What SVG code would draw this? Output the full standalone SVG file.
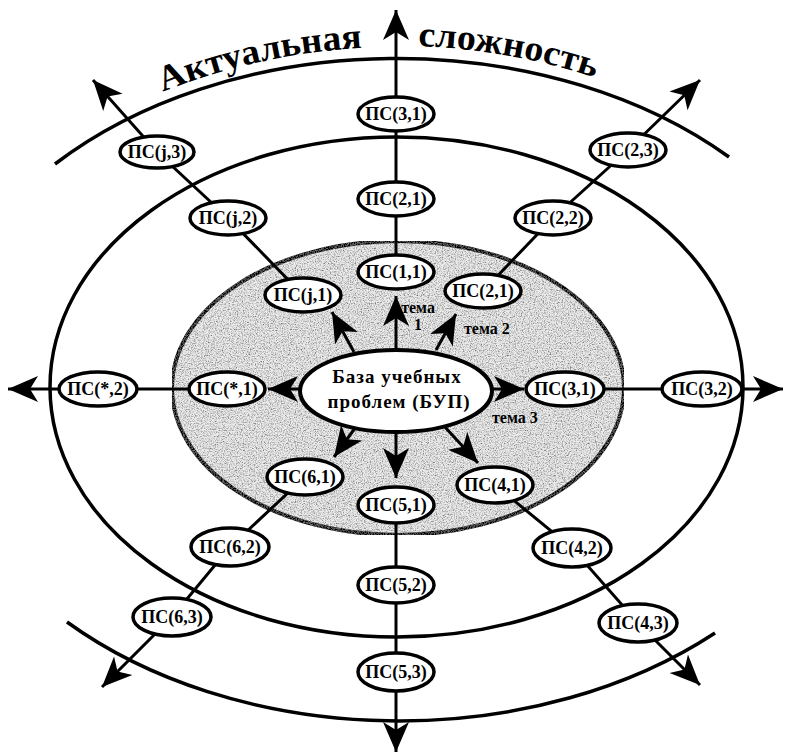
<svg xmlns="http://www.w3.org/2000/svg" width="787" height="756" viewBox="0 0 787 756">
<style>
.ring{fill:none;stroke:#000;stroke-width:3.5}
.ln{fill:none;stroke:#000;stroke-width:3}
.node ellipse{fill:#fff;stroke:#000;stroke-width:3.5}
.node text{font-family:"Liberation Serif",serif;font-size:18px;font-weight:bold;text-anchor:middle}
.lbl{font-family:"Liberation Serif",serif;font-size:16px;font-weight:bold}
.title{font-family:"Liberation Serif",serif;font-size:36px;font-weight:bold}
.bup{font-family:"Liberation Serif",serif;font-size:19px;font-weight:bold;text-anchor:middle;letter-spacing:1px}
</style>
<defs>
<marker id="ah" viewBox="-32 -15 34 30" refX="0" refY="0" markerWidth="34" markerHeight="30" markerUnits="userSpaceOnUse" orient="auto">
<path d="M0,0 L-30,-13 L-22,0 L-30,13 Z" fill="#000"/>
</marker>
<filter id="speck" x="0" y="0" width="1" height="1">
<feTurbulence type="fractalNoise" baseFrequency="0.85" numOctaves="3" seed="5" result="n"/>
<feColorMatrix in="n" type="matrix" values="0 0 0 0 0.2  0 0 0 0 0.2  0 0 0 0 0.2  2.4 0 0 0 -0.98" result="d"/>
<feComposite in="d" in2="SourceGraphic" operator="in" result="dc"/>
<feMerge><feMergeNode in="SourceGraphic"/><feMergeNode in="dc"/></feMerge>
</filter>
<path id="tp1" d="M163,92 A482,345 0 0 1 385,47"/>
<path id="tp2" d="M418,46 A482,345 0 0 1 602,80"/>
</defs>
<rect width="787" height="756" fill="#fff"/>

<g id="rings">
<path class="ring" d="M55,164 A465,328 0 0 1 729,157"/>
<path class="ring" d="M67,622 A465,330 0 0 0 715,633"/>
<ellipse class="ring" cx="396.5" cy="387" rx="346.5" ry="250"/>
<ellipse cx="398" cy="388" rx="226" ry="147" fill="#ebebeb" stroke="#000" stroke-width="4" filter="url(#speck)"/>
</g>

<g id="title">
<text class="title"><textPath href="#tp1" textLength="205" lengthAdjust="spacingAndGlyphs">Актуальная</textPath></text>
<text class="title"><textPath href="#tp2" textLength="180" lengthAdjust="spacingAndGlyphs">сложность</textPath></text>
</g>

<g id="labels">
<text class="lbl" x="418" y="313" text-anchor="middle">тема</text>
<text class="lbl" x="418" y="330" text-anchor="middle">1</text>
<text class="lbl" x="464" y="334">тема 2</text>
<text class="lbl" x="492" y="423">тема 3</text>
</g>

<g id="connectors">
<path class="ln" d="M396,255 L396,10" marker-end="url(#ah)"/>
<path class="ln" d="M303,295 L228,218 L157,152 L93,80" marker-end="url(#ah)"/>
<path class="ln" d="M483,291 L553,218 L628,150 L700,80" marker-end="url(#ah)"/>
<path class="ln" d="M227,389 L8,389" marker-end="url(#ah)"/>
<path class="ln" d="M565,389 L783,389" marker-end="url(#ah)"/>
<path class="ln" d="M396,505 L396,752" marker-end="url(#ah)"/>
<path class="ln" d="M305,477 L230,547 L172,617 L102,687" marker-end="url(#ah)"/>
<path class="ln" d="M495,485 L572,548 L638,623 L700,685" marker-end="url(#ah)"/>
<path class="ln" d="M396,352 L396,296" marker-end="url(#ah)"/>
<path class="ln" d="M354,352 L332,312" marker-end="url(#ah)"/>
<path class="ln" d="M436,350 L456,314" marker-end="url(#ah)"/>
<path class="ln" d="M302,389 L268,389" marker-end="url(#ah)"/>
<path class="ln" d="M490,389 L524,389" marker-end="url(#ah)"/>
<path class="ln" d="M396,430 L396,478" marker-end="url(#ah)"/>
<path class="ln" d="M358,424 L334,457" marker-end="url(#ah)"/>
<path class="ln" d="M444,426 L478,463" marker-end="url(#ah)"/>
</g>

<g id="bup">
<ellipse cx="396" cy="391" rx="96" ry="41" fill="#fff" stroke="#000" stroke-width="4"/>
<text class="bup" x="397" y="383">База учебных</text>
<text class="bup" x="399" y="408">проблем (БУП)</text>
</g>

<g id="n11" class="node"><ellipse cx="396" cy="272" rx="38" ry="17"/><text x="396" y="278">ПС(1,1)</text></g>
<g id="n21" class="node"><ellipse cx="396" cy="199" rx="38" ry="17"/><text x="396" y="205">ПС(2,1)</text></g>
<g id="n31" class="node"><ellipse cx="396" cy="114" rx="38" ry="17"/><text x="396" y="120">ПС(3,1)</text></g>
<g id="nj1" class="node"><ellipse cx="303" cy="295" rx="38" ry="17"/><text x="303" y="301">ПС(j,1)</text></g>
<g id="nj2" class="node"><ellipse cx="228" cy="218" rx="38" ry="17"/><text x="228" y="224">ПС(j,2)</text></g>
<g id="nj3" class="node"><ellipse cx="157" cy="152" rx="37" ry="16"/><text x="157" y="158">ПС(j,3)</text></g>
<g id="n21r" class="node"><ellipse cx="483" cy="291" rx="38" ry="17"/><text x="483" y="297">ПС(2,1)</text></g>
<g id="n22" class="node"><ellipse cx="553" cy="218" rx="38" ry="17"/><text x="553" y="224">ПС(2,2)</text></g>
<g id="n23" class="node"><ellipse cx="628" cy="150" rx="38" ry="17"/><text x="628" y="156">ПС(2,3)</text></g>
<g id="ns1" class="node"><ellipse cx="227" cy="389" rx="38" ry="17"/><text x="227" y="395">ПС(*,1)</text></g>
<g id="ns2" class="node"><ellipse cx="98" cy="389" rx="39" ry="17"/><text x="98" y="395">ПС(*,2)</text></g>
<g id="n31r" class="node"><ellipse cx="565" cy="389" rx="39" ry="17"/><text x="565" y="395">ПС(3,1)</text></g>
<g id="n32" class="node"><ellipse cx="702" cy="389" rx="40" ry="17"/><text x="702" y="395">ПС(3,2)</text></g>
<g id="n61" class="node"><ellipse cx="305" cy="477" rx="38" ry="18"/><text x="305" y="483">ПС(6,1)</text></g>
<g id="n62" class="node"><ellipse cx="230" cy="547" rx="39" ry="19"/><text x="230" y="553">ПС(6,2)</text></g>
<g id="n63" class="node"><ellipse cx="172" cy="617" rx="39" ry="19"/><text x="172" y="623">ПС(6,3)</text></g>
<g id="n51" class="node"><ellipse cx="396" cy="505" rx="38" ry="18"/><text x="396" y="511">ПС(5,1)</text></g>
<g id="n52" class="node"><ellipse cx="396" cy="585" rx="38" ry="18"/><text x="396" y="591">ПС(5,2)</text></g>
<g id="n53" class="node"><ellipse cx="396" cy="672" rx="38" ry="19"/><text x="396" y="678">ПС(5,3)</text></g>
<g id="n41" class="node"><ellipse cx="495" cy="485" rx="38" ry="18"/><text x="495" y="491">ПС(4,1)</text></g>
<g id="n42" class="node"><ellipse cx="572" cy="548" rx="39" ry="19"/><text x="572" y="554">ПС(4,2)</text></g>
<g id="n43" class="node"><ellipse cx="638" cy="623" rx="39" ry="19"/><text x="638" y="629">ПС(4,3)</text></g>
</svg>
